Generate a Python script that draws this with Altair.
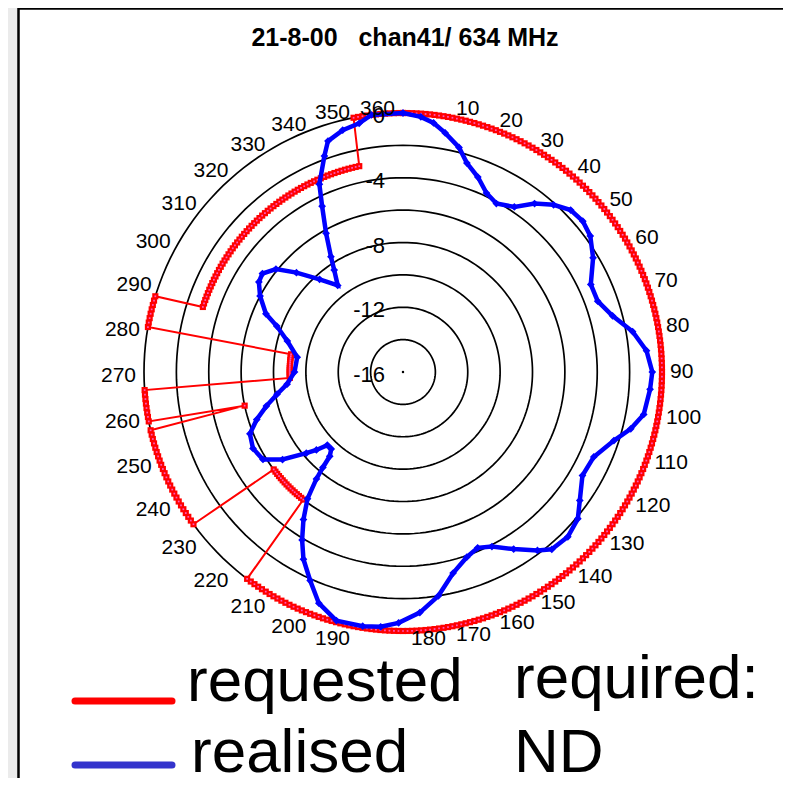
import altair as alt
import numpy as np
import pandas as pd

# ---------------- data ----------------
TITLE = "21-8-00\u00a0\u00a0 chan41/ 634 MHz"

angle_labels = list(range(10, 361, 10))
ring_levels = [-14, -12, -10, -8, -6, -4, -2, 0]
ring_label_values = [0, -4, -8, -12, -16]
ring_label_texts = ["0", "-4", "-8", "-12", "-16"]

# requested pattern (dB) per angular sector, degrees inclusive
req_start = [0, 218, 234, 258, 259, 267, 280, 288, 349]
req_end = [217, 233, 257, 258, 266, 279, 287, 348, 360]
req_db = [0, -6, 0, -6, 0, -9, 0, -3, 0]

# realised pattern
real_angle = [0, 4, 7, 10, 14, 17, 21, 25, 29, 34, 38, 42, 46, 50, 54, 59, 65, 70, 75, 80,
              85, 90, 94, 100, 104, 108, 114, 120, 126, 130, 135, 140, 143, 148, 153, 157, 161, 166, 171, 176,
              181, 185, 189, 195, 200, 204, 208, 211, 214, 217, 219, 220, 221, 223, 226, 228, 230, 234, 238, 243,
              248, 252, 256, 260, 264, 270, 278, 285, 290, 293, 298, 302, 305, 309, 313, 318, 323, 326, 328, 331,
              334, 336, 340, 342, 346, 350, 353, 360]
real_db = [0, -0.2, -0.5, -1.0, -1.7, -2.5, -3.1, -3.8, -4.1, -3.7, -2.8, -2.1, -1.6, -1.5, -1.7, -2.3, -3.2, -3.2, -2.6, -1.6,
           -0.9, -0.6, -0.7, -0.9, -1.5, -2.3, -3.1, -3.2, -2.5, -1.9, -1.6, -1.7, -2.2, -3.1, -3.9, -4.2, -3.9, -3.2, -2.0, -1.1,
           -0.5, -0.2, -0.1, -0.1, -0.8, -1.9, -2.9, -3.9, -5.0, -6.2, -7.5, -8.3, -9.1, -9.5, -9.5, -8.8, -8.2, -6.8, -5.8, -5.6,
           -5.8, -6.5, -7.3, -8.1, -8.8, -9.3, -9.4, -8.6, -7.7, -6.8, -6.0, -5.5, -5.4, -5.9, -7.0, -8.3, -9.3, -8.4, -7.6, -6.2,
           -4.6, -3.3, -1.8, -1.0, -0.6, -0.4, 0.0, 0.0]

# ---------------- tables ----------------
req_rows = []
for s, e, v in zip(req_start, req_end, req_db):
    for a in range(s, e + 1):
        req_rows.append({"angle": a, "db": v})
req_df = pd.DataFrame(req_rows)
real_df = pd.DataFrame({"angle": real_angle, "db": real_db})

ring_angles = list(range(0, 361, 2))
ring_df = pd.DataFrame([{"level": lv, "angle": a, "db": lv} for lv in ring_levels for a in ring_angles])
ring_lab_df = pd.DataFrame({"db": ring_label_values, "label": ring_label_texts})
ang_lab_df = pd.DataFrame({"angle": angle_labels, "label": [str(a) for a in angle_labels]})

# ---------------- layout ----------------
W, H = 775, 770
CX, CY = 395, 364      # centre in chart pixels
RPX = 259              # pixels for 16 dB
K = RPX / 16.0
xdom = [-CX / K, (W - CX) / K]
ydom = [-(H - CY) / K, CY / K]
FONT = "Liberation Sans"

xs = alt.Scale(domain=xdom, nice=False, zero=False)
ys = alt.Scale(domain=ydom, nice=False, zero=False)


def polar(ch, rad_x="datum.db + 16", rad_y="datum.db + 16"):
    return ch.transform_calculate(
        px=f"max({rad_x}, 0) * sin(datum.angle * PI / 180)",
        py=f"max({rad_y}, 0) * cos(datum.angle * PI / 180)",
    )


X = alt.X("px:Q", scale=xs, axis=None)
Y = alt.Y("py:Q", scale=ys, axis=None)

one = pd.DataFrame({"k": [0]})

frame = alt.Chart(one).mark_rect(fill="white", stroke="black", strokeWidth=2.5).encode(
    x=alt.value(10.5), x2=alt.value(900), y=alt.value(0.5), y2=alt.value(900))

rings = polar(alt.Chart(ring_df).mark_line(color="black", strokeWidth=1.7)).encode(
    x=X, y=Y, detail="level:N", order="angle:Q")

centre = alt.Chart(pd.DataFrame({"angle": [0], "db": [-16]})).transform_calculate(
    px="0", py="0").mark_point(filled=True, color="black", size=6, opacity=1).encode(x=X, y=Y)

req_line = polar(alt.Chart(req_df).mark_line(color="#ff0000", strokeWidth=2)).encode(
    x=X, y=Y, order="angle:Q")
req_pts = polar(alt.Chart(req_df).mark_point(shape="square", filled=True, color="#ff0000",
                                             size=38, opacity=1)).encode(x=X, y=Y)
req_dots = polar(alt.Chart(req_df).mark_point(shape="square", filled=True, color="#ff55bb",
                                              size=3, opacity=1)).encode(x=X, y=Y)

real_line = polar(alt.Chart(real_df).mark_line(color="#0000ff", strokeWidth=4.5)).encode(
    x=X, y=Y, order="angle:Q")
real_pts = polar(alt.Chart(real_df).mark_point(shape="diamond", filled=True, color="#0000ff",
                                               size=60, opacity=1)).encode(x=X, y=Y)

ring_labels = alt.Chart(ring_lab_df).transform_calculate(
    px="0", py="datum.db + 16").mark_text(
    align="right", baseline="middle", dx=-18, dy=3, fontSize=22, font=FONT, color="black"
).encode(x=X, y=Y, text="label:N")

lab_base = polar(alt.Chart(ang_lab_df), rad_x="16", rad_y="16.5")
lab_right = lab_base.transform_filter("datum.angle <= 180").mark_text(
    align="left", baseline="middle", dx=8, fontSize=21, font=FONT, color="black"
).encode(x=X, y=Y, text="label:N")
lab_left = lab_base.transform_filter("datum.angle > 180").mark_text(
    align="right", baseline="middle", dx=-8, dy=4, fontSize=21, font=FONT, color="black"
).encode(x=X, y=Y, text="label:N")

title = alt.Chart(one).mark_text(text=TITLE, fontSize=25, fontWeight="bold", font=FONT,
                                 align="center", baseline="middle", color="black").encode(
    x=alt.value(397), y=alt.value(30))

leg_red = alt.Chart(one).mark_rule(color="#ff0000", strokeWidth=7, strokeCap="round").encode(
    x=alt.value(67), x2=alt.value(164), y=alt.value(693))
leg_blue = alt.Chart(one).mark_rule(color="#3333cc", strokeWidth=7, strokeCap="round").encode(
    x=alt.value(67), x2=alt.value(164), y=alt.value(757))


def big_text(t, x, y):
    return alt.Chart(one).mark_text(text=t, fontSize=62, font=FONT, align="left",
                                    baseline="alphabetic", color="black").encode(
        x=alt.value(x), y=alt.value(y))


t1 = big_text("requested", 179, 693)
t2 = big_text("realised", 183, 764)
t3 = big_text("required:", 506, 690)
t4 = big_text("ND", 506, 764)

chart = alt.layer(
    frame, rings, centre, req_line, req_pts, req_dots, real_line, real_pts,
    ring_labels, lab_right, lab_left, title, leg_red, leg_blue, t1, t2, t3, t4
).properties(
    width=W, height=H, padding=0, background="#ebebeb",
    autosize=alt.AutoSizeParams(type="none"),
).configure_view(stroke=None)

chart.save("out.html", embed_options={"renderer": "svg", "actions": False})
